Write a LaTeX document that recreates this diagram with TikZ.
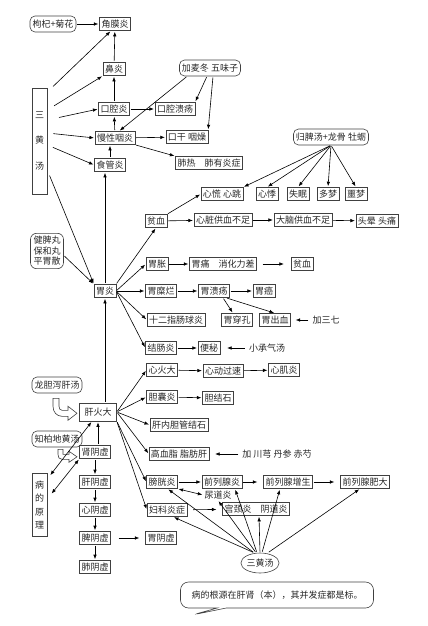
\documentclass[tikz,border=0pt]{standalone}
\usepackage{fontspec}
\newfontfamily\cjk{Noto Sans CJK SC}
\usetikzlibrary{arrows.meta,positioning,calc,shapes.geometric,shapes.callouts}

\tikzset{
  box/.style={draw=black!75, line width=0.6pt, inner sep=1.8pt, minimum height=13pt},
  pill/.style={draw=black!75, line width=0.6pt, rounded corners=5pt, inner sep=2.5pt, minimum height=16pt},
  vbox/.style={draw=black!75, line width=0.6pt, align=center, minimum width=15pt, inner sep=1pt},
  plain/.style={inner sep=1pt},
  arr/.style={-{Latex[length=4.5pt,width=3.5pt]}, line width=0.6pt, shorten <=1pt, shorten >=1pt},
  darr/.style={{Latex[length=4.5pt,width=3.5pt]}-{Latex[length=4.5pt,width=3.5pt]}, line width=0.6pt, shorten <=1pt, shorten >=1pt},
  hollow/.style={draw=black!75, fill=white, line width=0.6pt},
}

\begin{document}
\begin{tikzpicture}[x=1pt,y=-1pt,font=\cjk\fontsize{9}{10.5}\selectfont,text=black!85]
	\useasboundingbox (0,0) rectangle (428,626);
	
	% top: eyes, nose, mouth, throat
	\node[pill] (gouqi) at (53,24) {枸杞+菊花};
	\node[box] (jiaomo) at (115,24) {角膜炎};
	\node[box] (biyan) at (114,69) {鼻炎};
	\node[pill] (maidong) at (210,68) {加麦冬 五味子};
	\node[box] (kouqiang) at (114,109) {口腔炎};
	\node[box] (kuiyang) at (175,109) {口腔溃疡};
	\node[box] (manxing) at (115,138) {慢性咽炎};
	\node[box] (kougan) at (187,137) {口干 咽燥};
	\node[box] (feire) at (209,163) {肺热　肺有炎症};
	\node[box] (shiguan) at (110,165) {食管炎};
	\node[vbox, minimum height=106pt] (sanhuang) at (39.5,141) {三\\[15pt]黄\\[15pt]汤};
	
	\draw[arr] (gouqi) -- (jiaomo);
	\draw[arr] (biyan) -- (jiaomo);
	\draw[arr] (kouqiang) -- (biyan);
	\draw[arr] (manxing) -- (kouqiang);
	\draw[arr] (kouqiang) -- (kuiyang);
	\draw[arr] (manxing) -- (kougan);
	\draw[arr] (manxing.south east) -- (feire.north west);
	\draw[arr] (shiguan) -- (shiguan |- manxing.south);
	\draw[arr] (maidong.200) -- ([xshift=4pt]manxing.north);
	\draw[arr] (maidong.250) -- (kuiyang.north east);
	\draw[arr] (maidong.290) -- (kougan.north east);
	\draw[arr, shorten <=8pt] ([yshift=49pt]sanhuang.east) -- ([xshift=-4pt]jiaomo.south);
	\draw[arr, shorten <=8pt] ([yshift=31pt]sanhuang.east) -- (biyan.south west);
	\draw[arr, shorten <=12pt] ([yshift=21pt]sanhuang.east) -- (kouqiang.west);
	\draw[arr, shorten <=6pt] ([yshift=8pt]sanhuang.east) -- (manxing.west);
	\draw[arr, shorten <=6pt] ([yshift=-4pt]sanhuang.east) -- (shiguan.west);
	
	% heart and blood
	\node[pill] (guipi) at (331,137) {归脾汤+龙骨 牡蛎};
	\node[box] (xinhuang) at (222,194) {心慌 心跳};
	\node[box] (xinji) at (267,194) {心悸};
	\node[box] (shimian) at (298,194) {失眠};
	\node[box] (duomeng) at (328,194) {多梦};
	\node[box] (emeng) at (356,194) {噩梦};
	\node[box] (pinxue) at (156,221) {贫血};
	\node[box] (gongxue) at (223,220) {心脏供血不足};
	\node[box] (danao) at (303,220) {大脑供血不足};
	\node[box] (touyun) at (377,221) {头晕 头痛};
	
	\draw[arr] (guipi.south) -- (xinhuang.north east);
	\draw[arr] (guipi.south) -- (xinji.north);
	\draw[arr] (guipi.south) -- (shimian.north);
	\draw[arr] (guipi.south) -- (duomeng.north);
	\draw[arr] (guipi.south) -- (emeng.north);
	\draw[arr] (pinxue.north east) -- (xinhuang.west);
	\draw[arr] (pinxue) -- (gongxue);
	\draw[arr] (gongxue) -- (danao);
	\draw[arr] (danao) -- (touyun);
	
	% stomach
	\node[vbox, rounded corners=6pt, inner sep=3pt] (jianpi) at (47,251) {健脾丸\\保和丸\\平胃散};
	\node[box] (weiyan) at (105,291) {胃炎};
	\node[box] (weizhang) at (157,264) {胃胀};
	\node[box] (weitong) at (223,264) {胃痛　消化力差};
	\node[box] (pinxueb) at (302,264) {贫血};
	\node[box] (weimilan) at (161,291) {胃糜烂};
	\node[box] (weikuiyang) at (214,291) {胃溃疡};
	\node[box] (weiai) at (264,291) {胃癌};
	\node[box] (shier) at (176,320) {十二指肠球炎};
	\node[box] (chuankong) at (237,320) {胃穿孔};
	\node[box] (chuxue) at (275,320) {胃出血};
	\node[plain] (sanqi) at (326,320) {加三七};
	\node[box] (jiechang) at (161,348) {结肠炎};
	\node[box] (bianmi) at (209,348) {便秘};
	\node[plain] (chengqi) at (267,348) {小承气汤};
	
	\draw[arr, shorten <=6pt] ([yshift=-29pt]sanhuang.east) -- (weiyan.north west);
	\draw[arr] (jianpi.-15) -- (weiyan.north west);
	\draw[arr] (weiyan.north) -- (weiyan.north |- shiguan.south);
	\draw[arr] (weiyan.north east) -- (pinxue.south);
	\draw[arr] (weiyan.east) -- (weizhang.west);
	\draw[arr] (weiyan) -- (weimilan);
	\draw[arr] (weiyan.east) -- (shier.west);
	\draw[arr] (weiyan.east) -- (jiechang.west);
	\draw[arr] (weizhang) -- (weitong);
	\draw[arr, shorten <=6pt, shorten >=7pt] (weitong) -- (pinxueb);
	\draw[arr] (weimilan) -- (weikuiyang);
	\draw[arr] (weikuiyang) -- (weiai);
	\draw[arr] ([xshift=9pt]weikuiyang.south) -- ([xshift=-4pt]chuankong.north);
	\draw[arr] ([xshift=12pt]weikuiyang.south) -- (chuxue.north);
	\draw[arr, shorten <=3pt, shorten >=5pt] (sanqi) -- (chuxue);
	\draw[arr] (jiechang) -- (bianmi);
	\draw[arr, shorten <=3pt, shorten >=7pt] (chengqi) -- (bianmi);
	
	% liver fire
	\node[pill] (longdan) at (57,385) {龙胆泻肝汤};
	\node[box, minimum width=37pt, minimum height=18pt] (ganhuo) at (98,412) {肝火大};
	\node[pill] (zhibai) at (57,439) {知柏地黄汤};
	\node[box] (xinhuo) at (162,370) {心火大};
	\node[box] (xindong) at (223,371) {心动过速};
	\node[box] (xinjiyan) at (284,370) {心肌炎};
	\node[box] (dannang) at (162,397) {胆囊炎};
	\node[box] (danjie) at (218,398) {胆结石};
	\node[box] (gannei) at (179,425) {肝内胆管结石};
	\node[box] (gaoxue) at (179,454) {高血脂 脂肪肝};
	\node[plain] (chuanxiong) at (277,454) {加 川芎 丹参 赤芍};
	
	\draw[arr] (ganhuo.north -| weiyan.south) -- (weiyan.south);
	\draw[arr] (ganhuo.east) -- (xinhuo.west);
	\draw[arr] (ganhuo.east) -- (dannang.west);
	\draw[arr] (ganhuo.east) -- (gannei.west);
	\draw[arr] (ganhuo.east) -- (gaoxue.west);
	\draw[arr] (xinhuo) -- (xindong);
	\draw[arr] (xindong) -- (xinjiyan);
	\draw[arr] (dannang) -- (danjie);
	\draw[arr, shorten <=3pt, shorten >=6pt] (chuanxiong) -- (gaoxue);
	
	% hollow bent arrows from the two formulas
	\begin{scope}[shift={(longdan.south)}]
		\draw[hollow] (-4,5) -- (-4,13) .. controls (-4,19) and (0,23) .. (5,23) -- (11,23)
			-- (11,27) -- (20,20) -- (11,13) -- (11,17) -- (5,17) .. controls (3,17) and (2,15) .. (2,13) -- (2,5) -- cycle;
	\end{scope}
	\begin{scope}[shift={(zhibai.south)}]
		\draw[hollow] (1,2) -- (1,7) .. controls (1,10) and (2,12) .. (5,12) -- (12,12)
			-- (12,15) -- (20,9.5) -- (12,4) -- (12,7) -- (6,7) -- (6,2) -- cycle;
	\end{scope}
	
	% yin deficiency chain
	\node[box] (shenyin) at (95,452) {肾阴虚};
	\node[box] (ganyin) at (95,482) {肝阴虚};
	\node[box] (xinyin) at (95,510) {心阴虚};
	\node[box] (piyin) at (95,538) {脾阴虚};
	\node[box] (feiyin) at (95,567) {肺阴虚};
	\node[box] (weiyin) at (161,538) {胃阴虚};
	\node[vbox, minimum height=63pt] (bingli) at (39.5,505) {病\\[3pt]的\\[3pt]原\\[3pt]理};
	
	\draw[arr] ([xshift=3pt]shenyin.north) -- ([xshift=3pt]shenyin.north |- ganhuo.south);
	\draw[arr] (shenyin) -- (ganyin);
	\draw[arr] (ganyin) -- (xinyin);
	\draw[arr] (xinyin) -- (piyin);
	\draw[arr] (piyin) -- (feiyin);
	\draw[arr, shorten <=8pt, shorten >=6pt] (piyin) -- (weiyin);
	\draw[darr, shorten <=5pt] ([yshift=26pt]bingli.east) -- ([xshift=-6pt]ganhuo.south);
	\draw[darr, shorten <=7pt] ([yshift=6pt]bingli.east) -- (shenyin.south west);
	
	% urinary and gynaecological
	\node[box] (pangguang) at (162,482) {膀胱炎};
	\node[box] (qlxyan) at (222,482) {前列腺炎};
	\node[box] (zengsheng) at (288,482) {前列腺增生};
	\node[box] (feida) at (365,482) {前列腺肥大};
	\node[plain] (niaodao) at (218,495) {尿道炎};
	\node[box] (fuke) at (167,510) {妇科炎症};
	\node[box] (gongjing) at (256,509) {宫颈炎　阴道炎};
	\node[draw=black!75, line width=0.6pt, ellipse, minimum width=36pt, minimum height=20pt, inner sep=0pt] (sanhuangb) at (260,563) {三黄汤};
	
	\draw[arr] (ganhuo.south east) -- (pangguang.west);
	\draw[arr] (ganhuo.south east) -- (fuke.west);
	\draw[arr] (pangguang) -- (qlxyan);
	\draw[arr, shorten >=6pt] (qlxyan) -- (zengsheng);
	\draw[arr, shorten >=6pt] (zengsheng) -- (feida);
	\draw[darr] (pangguang.south east) -- (niaodao.west);
	\draw[arr, shorten <=6pt, shorten >=6pt] (fuke) -- (gongjing);
	\draw[arr] ([xshift=-6pt]sanhuangb.north) -- ([xshift=-10pt]pangguang.south east);
	\draw[arr] ([xshift=-6pt]sanhuangb.north) -- ([xshift=-14pt]fuke.south east);
	\draw[arr] ([xshift=-4pt]sanhuangb.north) -- (niaodao.south);
	\draw[arr] ([xshift=-3pt]sanhuangb.north) -- ([xshift=13pt]qlxyan.south);
	\draw[arr] (sanhuangb.north) -- ([xshift=3pt]gongjing.south);
	\draw[arr] ([xshift=2pt]sanhuangb.north) -- ([xshift=-8pt]zengsheng.south);
	\draw[arr] ([xshift=8pt]sanhuangb.north) -- ([xshift=-5pt]feida.south);
	
	% note at the bottom
	\node[rectangle callout, draw=black!75, line width=0.6pt, rounded corners=8pt,
		minimum width=193pt, minimum height=26pt, callout pointer width=9pt,
		callout absolute pointer={(192,615)}] (note) at (277,595)
		{病的根源在肝肾（本），其并发症都是标。};
\end{tikzpicture}
\end{document}
